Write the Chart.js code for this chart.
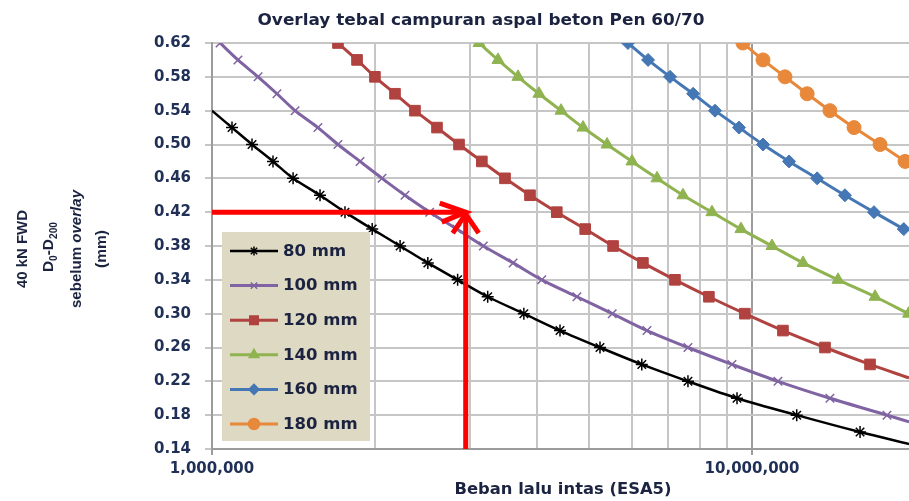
<!DOCTYPE html>
<html lang="id">
<head>
<meta charset="UTF-8">
<title>Overlay tebal campuran aspal beton Pen 60/70</title>
<script src="https://cdn.jsdelivr.net/npm/chart.js"></script>
<style>
    html, body { margin: 0; padding: 0; background: #ffffff; }
    #wrap { width: 909px; height: 501px; position: relative; }
</style>
</head>
<body>
<div id="wrap"><canvas id="chart"></canvas></div>
<script>
// lendutan D0-D200 (mm) vs beban lalu lintas (ESA5)
const defl80  = [0.54, 0.52, 0.50, 0.48, 0.46, 0.44, 0.42, 0.40, 0.38, 0.36, 0.34, 0.32, 0.30, 0.28, 0.26, 0.24, 0.22, 0.20, 0.18, 0.16, 0.146];
const esa80   = [1.0e6, 1.089e6, 1.186e6, 1.297e6, 1.413e6, 1.585e6, 1.763e6, 1.98e6, 2.23e6, 2.51e6, 2.85e6, 3.24e6, 3.78e6, 4.41e6, 5.23e6, 6.25e6, 7.61e6, 9.38e6, 12.1e6, 15.85e6, 19.53e6];

const defl100 = [0.62, 0.60, 0.58, 0.56, 0.54, 0.52, 0.50, 0.48, 0.46, 0.44, 0.42, 0.40, 0.38, 0.36, 0.34, 0.32, 0.30, 0.28, 0.26, 0.24, 0.22, 0.20, 0.18, 0.172];
const esa100  = [1.035e6, 1.117e6, 1.217e6, 1.319e6, 1.425e6, 1.571e6, 1.711e6, 1.88e6, 2.065e6, 2.277e6, 2.53e6, 2.84e6, 3.18e6, 3.61e6, 4.08e6, 4.74e6, 5.51e6, 6.39e6, 7.61e6, 9.18e6, 11.17e6, 13.94e6, 17.78e6, 19.53e6];

const defl120 = [0.62, 0.60, 0.58, 0.56, 0.54, 0.52, 0.50, 0.48, 0.46, 0.44, 0.42, 0.40, 0.38, 0.36, 0.34, 0.32, 0.30, 0.28, 0.26, 0.24, 0.224];
const esa120  = [1.711e6, 1.856e6, 2.003e6, 2.182e6, 2.376e6, 2.61e6, 2.867e6, 3.16e6, 3.488e6, 3.88e6, 4.35e6, 4.91e6, 5.53e6, 6.28e6, 7.2e6, 8.32e6, 9.7e6, 11.41e6, 13.65e6, 16.54e6, 19.53e6];

const defl140 = [0.62, 0.60, 0.58, 0.56, 0.54, 0.52, 0.50, 0.48, 0.46, 0.44, 0.42, 0.40, 0.38, 0.36, 0.34, 0.32, 0.30];
const esa140  = [3.123e6, 3.386e6, 3.687e6, 4.032e6, 4.43e6, 4.865e6, 5.39e6, 5.995e6, 6.67e6, 7.45e6, 8.43e6, 9.54e6, 10.89e6, 12.43e6, 14.43e6, 16.9e6, 19.5e6];

const defl160 = [0.62, 0.60, 0.58, 0.56, 0.54, 0.52, 0.50, 0.48, 0.46, 0.44, 0.42, 0.40];
const esa160  = [5.892e6, 6.42e6, 7.05e6, 7.78e6, 8.54e6, 9.46e6, 10.48e6, 11.71e6, 13.2e6, 14.86e6, 16.82e6, 19.1e6];

const defl180 = [0.62, 0.60, 0.58, 0.56, 0.54, 0.52, 0.50, 0.48];
const esa180  = [9.62e6, 10.48e6, 11.51e6, 12.65e6, 13.94e6, 15.45e6, 17.26e6, 19.2e6];

const seriesNames = ['80 mm', '100 mm', '120 mm', '140 mm', '160 mm', '180 mm'];

// axes
const X_MIN = 1e6, X_MAX = 19.53e6;
const Y_MIN = 0.14, Y_MAX = 0.62;
const xTicks = [1e6, 2e6, 3e6, 4e6, 5e6, 6e6, 7e6, 8e6, 9e6, 10e6];
const xTickLabels = { 1000000: '1,000,000', 10000000: '10,000,000' };
const yTicks = [0.14, 0.18, 0.22, 0.26, 0.30, 0.34, 0.38, 0.42, 0.46, 0.50, 0.54, 0.58, 0.62];

// the red reading example
const arrowLoad = 2.95e6;
const arrowDefl = 0.42;

const chartTitle = 'Overlay tebal campuran aspal beton Pen 60/70';
const xTitle = 'Beban lalu intas (ESA5)';

const TEXT_DARK = '#1b2340';
const TICK_TEXT = '#1f2f55';

const styles = [
    { color: '#000000', point: 'star',     r: 6,   lw: 2.5 },
    { color: '#7f63a2', point: 'crossRot', r: 6,   lw: 3 },
    { color: '#b0423f', point: 'rect',     r: 7.5, lw: 3 },
    { color: '#8fb350', point: 'triangle', r: 7,   lw: 3 },
    { color: '#4477b4', point: 'rectRot',  r: 6.5, lw: 3 },
    { color: '#e8883a', point: 'circle',   r: 7,   lw: 3 }
];

const allEsa = [esa80, esa100, esa120, esa140, esa160, esa180];
const allDefl = [defl80, defl100, defl120, defl140, defl160, defl180];

const datasets = seriesNames.map((name, i) => ({
    label: name,
    data: allEsa[i].map((v, j) => ({ x: v, y: allDefl[i][j] })),
    borderColor: styles[i].color,
    backgroundColor: styles[i].color,
    borderWidth: styles[i].lw,
    pointStyle: styles[i].point,
    pointRadius: c => (c.raw && (c.raw.x <= X_MIN || c.raw.x >= X_MAX)) ? 0 : styles[i].r,
    pointBorderWidth: (styles[i].point === 'star' || styles[i].point === 'crossRot') ? 1.5 : 1,
    pointHoverRadius: 0,
    tension: 0.3,
    fill: false
}));

// helper: text squeezed/stretched to a given length, optionally rotated
function fitText(ctx, parts, cx, cy, len, rot) {
    ctx.save();
    ctx.translate(cx, cy);
    if (rot) ctx.rotate(rot);
    let w = 0;
    parts.forEach(p => { ctx.font = p.font; p.w = ctx.measureText(p.t).width; w += p.w; });
    ctx.scale(len / w, 1);
    ctx.textAlign = 'left';
    ctx.textBaseline = 'middle';
    let x = -w / 2;
    parts.forEach(p => { ctx.font = p.font; ctx.fillText(p.t, x, p.dy || 0); x += p.w; });
    ctx.restore();
}

const decor = {
    id: 'decor',
    afterDatasetsDraw(chart) {
        const { ctx, scales: { x, y } } = chart;

        // legend box
        ctx.save();
        ctx.fillStyle = '#ddd9c3';
        ctx.fillRect(222, 232, 148, 209);
        seriesNames.forEach((name, i) => {
            const ly = 251 + i * 34.6;
            ctx.strokeStyle = styles[i].color;
            ctx.lineWidth = styles[i].lw;
            ctx.beginPath(); ctx.moveTo(230, ly); ctx.lineTo(278, ly); ctx.stroke();
            ctx.fillStyle = styles[i].color;
            ctx.lineWidth = 1.5;
            Chart.helpers.drawPoint(ctx, { pointStyle: styles[i].point, radius: styles[i].r - 1.5, rotation: 0, borderWidth: 1.5 }, 254, ly);
            ctx.fillStyle = TEXT_DARK;
            ctx.font = 'bold 15px "DejaVu Sans"';
            ctx.textBaseline = 'middle';
            ctx.save();
            ctx.translate(283, ly + 1);
            ctx.scale(1.1, 1);
            ctx.fillText(name, 0, 0);
            ctx.restore();
        });
        ctx.restore();

        // red arrows
        const px = x.getPixelForValue(arrowLoad);
        const py = y.getPixelForValue(arrowDefl);
        const x0 = x.getPixelForValue(X_MIN);
        const yb = y.getPixelForValue(Y_MIN);
        ctx.save();
        ctx.strokeStyle = '#ff0000';
        ctx.lineWidth = 5;
        ctx.lineJoin = 'miter';
        ctx.beginPath(); ctx.moveTo(x0, py); ctx.lineTo(px - 2, py); ctx.stroke();
        ctx.beginPath(); ctx.moveTo(px - 26, py - 9); ctx.lineTo(px, py); ctx.lineTo(px - 24, py + 10); ctx.stroke();
        ctx.beginPath(); ctx.moveTo(px, yb); ctx.lineTo(px, py + 3); ctx.stroke();
        ctx.beginPath(); ctx.moveTo(px - 13, py + 21); ctx.lineTo(px, py + 2); ctx.lineTo(px + 13, py + 21); ctx.stroke();
        ctx.restore();
    },
    afterDraw(chart) {
        const ctx = chart.ctx;
        ctx.save();
        ctx.fillStyle = TEXT_DARK;
        const hb = 'bold 15px "DejaVu Sans"';
        fitText(ctx, [{ t: chartTitle, font: hb }], 481, 21, 447, 0);
        fitText(ctx, [{ t: xTitle, font: hb }], 563, 490, 217, 0);

        // vertical axis title, four rotated lines
        const nb = 'bold 15px "Liberation Sans Narrow", "Liberation Sans", sans-serif';
        const ns = 'bold 10px "Liberation Sans Narrow", "Liberation Sans", sans-serif';
        const ni = 'italic bold 15px "Liberation Sans Narrow", "Liberation Sans", sans-serif';
        const up = -Math.PI / 2;
        fitText(ctx, [{ t: '40 kN FWD', font: nb }], 23, 249, 78, up);
        fitText(ctx, [
            { t: 'D', font: nb }, { t: '0', font: ns, dy: 5 },
            { t: '-D', font: nb }, { t: '200', font: ns, dy: 5 }
        ], 49, 247, 50, up);
        fitText(ctx, [{ t: 'sebelum ', font: nb }, { t: 'overlay', font: ni }], 77, 249, 118, up);
        fitText(ctx, [{ t: '(mm)', font: nb }], 102, 249, 38, up);
        ctx.restore();
    }
};

new Chart(document.getElementById('chart'), {
    type: 'line',
    data: { datasets: datasets },
    options: {
        responsive: true,
        maintainAspectRatio: false,
        animation: false,
        events: [],
        layout: { autoPadding: false, padding: { top: 43, right: 0, left: 0, bottom: 0 } },
        plugins: {
            legend: { display: false },
            title: { display: false },
            tooltip: { enabled: false }
        },
        scales: {
            x: {
                type: 'logarithmic',
                min: X_MIN,
                max: X_MAX,
                afterBuildTicks: s => { s.ticks = xTicks.map(v => ({ value: v })); },
                afterFit: s => { s.height = 52; },
                ticks: {
                    autoSkip: false,
                    maxRotation: 0,
                    padding: 5,
                    color: TICK_TEXT,
                    font: { family: 'DejaVu Sans', size: 15, weight: 'bold' },
                    callback: v => xTickLabels[v] || ''
                },
                grid: {
                    color: c => (c.tick && xTickLabels[c.tick.value]) ? '#9c9c9c' : '#c6c6c6',
                    tickColor: c => (c.tick && xTickLabels[c.tick.value]) ? '#9c9c9c' : 'rgba(0,0,0,0)',
                    lineWidth: 2,
                    tickLength: 6
                },
                border: { display: true, color: '#9c9c9c', width: 2 }
            },
            y: {
                type: 'linear',
                min: Y_MIN,
                max: Y_MAX,
                afterBuildTicks: s => { s.ticks = yTicks.map(v => ({ value: v })); },
                afterFit: s => { s.width = 212; },
                ticks: {
                    padding: 14,
                    color: TICK_TEXT,
                    font: { family: 'DejaVu Sans', size: 15, weight: 'bold' },
                    callback: v => Number(v).toFixed(2)
                },
                grid: {
                    color: '#c6c6c6',
                    lineWidth: 2,
                    tickLength: 7
                },
                border: { display: true, color: '#9c9c9c', width: 2 }
            }
        }
    },
    plugins: [decor]
});
</script>
</body>
</html>
